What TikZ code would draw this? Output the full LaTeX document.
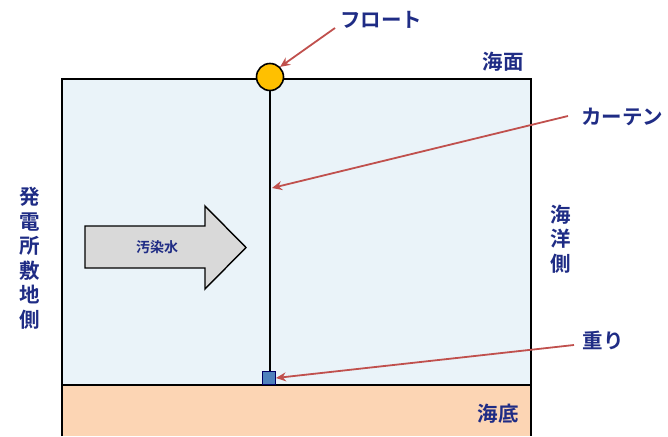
\documentclass[tikz,border=0pt]{standalone}
\usepackage{fontspec}
\newfontfamily\jp{Noto Sans CJK JP Bold}
\usetikzlibrary{shapes.arrows,arrows.meta}
\definecolor{seablue}{HTML}{EAF3F9}
\definecolor{bedpeach}{HTML}{FCD5B4}
\definecolor{txtblue}{HTML}{1F2C85}
\definecolor{floaty}{HTML}{FFC000}
\definecolor{wblue}{HTML}{4F81BD}
\definecolor{redline}{HTML}{C0504D}
\tikzset{
  lbl/.style={font=\jp\fontsize{20.5}{20.5}\selectfont, text=txtblue, inner sep=0pt},
  vlbl/.style={font=\jp\fontsize{20.5}{24.5}\selectfont, text=txtblue, inner sep=0pt, align=center},
  callout/.style={draw=redline, line width=1.8pt, -{Stealth[length=10pt,width=9pt]}},
}
\begin{document}
\begin{tikzpicture}[x=1pt,y=-1pt]
\useasboundingbox (0,0) rectangle (668,436);
% seabed
\fill[bedpeach] (62,385) rectangle (531,436);
% sea
\fill[seablue] (62,79) rectangle (531,385);
\draw[line width=2pt] (62,436) -- (62,79) -- (531,79) -- (531,436);
\draw[line width=2pt] (62,385) -- (531,385);
% curtain
\coordinate (ctop) at (270,77);
\coordinate (cbot) at (270,378);
\draw[line width=1.6pt] (ctop) -- (cbot);
\node[draw=black, line width=1.6pt, fill=floaty, circle, minimum size=27pt, inner sep=0pt] (float) at (ctop) {};
\node[draw=blue!40!black, line width=0.9pt, fill=wblue, minimum size=13pt, inner sep=0pt] (weight) at (269,378) {};
% block arrow
\draw[line width=1.4pt, fill=black!15] (85,226) -- (205,226) -- (205,206) -- (246,247.5) -- (205,289) -- (205,268) -- (85,268) -- cycle;
\node[font=\jp\fontsize{14}{14}\selectfont, text=txtblue] (water) at (157,247) {汚染水};
% labels
\node[lbl] (lfloat) at (381,20) {フロート};
\node[lbl] (lsurf) at (503,62) {海面};
\node[lbl] (lcurt) at (622,117) {カーテン};
\node[lbl] (lweight) at (603,340) {重り};
\node[lbl] (lbed) at (498,414) {海底};
\node[vlbl] (lplant) at (30,258) {発\\電\\所\\敷\\地\\側};
\node[vlbl] (locean) at (561,239) {海\\洋\\側};
% callouts
\coordinate (c1) at (335,28);
\coordinate (c2) at (568,116);
\coordinate (c3) at (574,345);
\coordinate (t2) at (272,188);
\draw[callout] (c1) -- (float.45);
\draw[callout] (c2) -- (t2);
\draw[callout] (c3) -- (weight.east);
\end{tikzpicture}
\end{document}
